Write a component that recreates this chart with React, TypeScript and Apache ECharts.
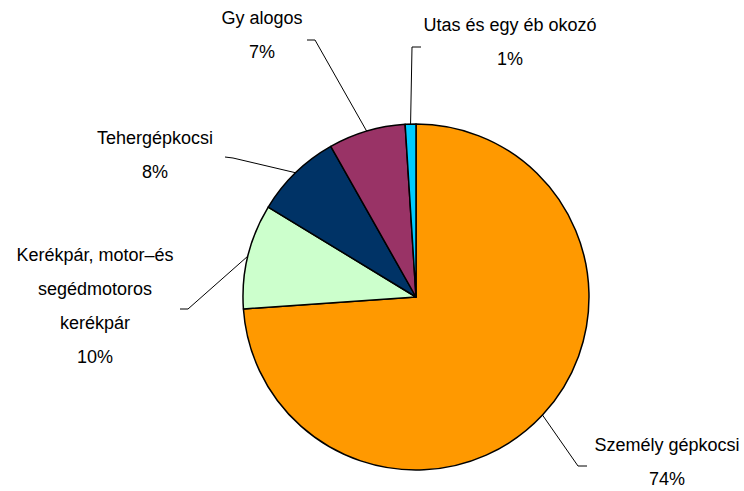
import React, { useEffect, useRef } from "react";
import * as echarts from "echarts";

const categories = [
  "Személy gépkocsi",
  "Kerékpár, motor–és\nsegédmotoros\nkerékpár",
  "Tehergépkocsi",
  "Gy alogos",
  "Utas és egy éb okozó",
];
const values = [73.9, 9.8, 8.1, 7.2, 1.0];
const colors = ["#FF9900", "#CCFFCC", "#003366", "#993366", "#00CCFF"];

// label layout (pixel positions of label centres and leader-line elbows)
const CX = 416;
const CY = 297;
const R = 173;
const labelPos: [number, number][] = [
  [667, 462],
  [95, 306],
  [155, 155],
  [262, 35],
  [510, 42],
];
const elbows: [number, number][][] = [
  [[578, 466], [587, 466]],
  [[188, 309], [180, 309]],
  [[233, 158], [225, 157]],
  [[315, 40], [307, 40]],
  [[412, 47], [421, 47]],
];

export default function App() {
  const ref = useRef<HTMLDivElement>(null);
  useEffect(() => {
    document.body.style.margin = "0";
    const chart = echarts.init(ref.current!, null, { renderer: "svg" });
    const total = values.reduce((a, b) => a + b, 0);
    const mids: number[] = [];
    let acc = 0;
    values.forEach((v) => {
      mids.push(((acc + v / 2) / total) * Math.PI * 2);
      acc += v;
    });
    chart.setOption({
      animation: false,
      backgroundColor: "#ffffff",
      series: [
        {
          type: "pie",
          center: [CX, CY],
          radius: R,
          startAngle: 90,
          clockwise: true,
          avoidLabelOverlap: false,
          itemStyle: { borderColor: "#000000", borderWidth: 1.5 },
          emphasis: { disabled: true },
          label: {
            show: true,
            position: "outside",
            color: "#000000",
            fontFamily: "Liberation Sans, Arial, sans-serif",
            fontSize: 18,
            lineHeight: 34,
            align: "center",
            formatter: (p: any) => `${p.name}\n${Math.round(p.percent)}%`,
          },
          labelLine: {
            show: true,
            lineStyle: { color: "#000000", width: 1 },
          },
          labelLayout: (p: any) => {
            const i = p.dataIndex;
            const a = mids[i];
            const start = [CX + Math.sin(a) * R, CY - Math.cos(a) * R];
            return {
              x: labelPos[i][0],
              y: labelPos[i][1],
              align: "center",
              verticalAlign: "middle",
              labelLinePoints: [start, elbows[i][0], elbows[i][1]],
            };
          },
          data: categories.map((name, i) => ({
            name,
            value: values[i],
            itemStyle: { color: colors[i] },
          })),
        },
      ],
    });
    return () => chart.dispose();
  }, []);
  return <div ref={ref} style={{ width: 744, height: 491 }} />;
}
